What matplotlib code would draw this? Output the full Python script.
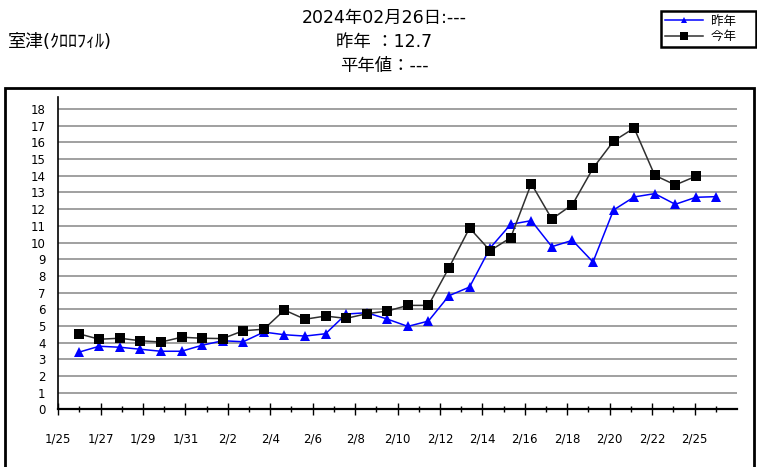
import matplotlib
matplotlib.use("Agg")
import matplotlib.pyplot as plt
from matplotlib.patches import Rectangle

plt.rcParams['font.family'] = ['DejaVu Sans', 'Noto Sans CJK JP']

# ---- data ----
last_year = [3.42, 3.78, 3.72, 3.60, 3.48, 3.48, 3.84, 4.11, 4.05, 4.63, 4.47,
             4.39, 4.53, 5.71, 5.79, 5.41, 4.97, 5.29, 6.81, 7.33, 9.67, 11.09,
             11.31, 9.75, 10.13, 8.83, 11.95, 12.73, 12.93, 12.29, 12.71, 12.75]
this_year = [4.53, 4.20, 4.26, 4.11, 4.03, 4.32, 4.26, 4.24, 4.71, 4.80, 5.95,
             5.40, 5.59, 5.45, 5.73, 5.89, 6.23, 6.23, 8.49, 10.87, 9.51, 10.29,
             13.53, 11.41, 12.27, 14.45, 16.08, 16.86, 14.03, 13.45, 13.97]
date_labels = ['1/25', '1/27', '1/29', '1/31', '2/2', '2/4', '2/6', '2/8', '2/10',
               '2/12', '2/14', '2/16', '2/18', '2/20', '2/22', '2/25']
y_ticks = list(range(0, 19))
series_names = ['昨年', '今年']
title_lines = ['2024年02月26日:---', '昨年 ：12.7', '平年値：---']
station = '室津(ｸﾛﾛﾌｨﾙ)'

W, H = 757, 467
fig = plt.figure(figsize=(W / 100, H / 100), dpi=100)

left_px, right_px = 58.1, 737.0
bottom_px = 409.3
unit_px = 16.68
ytop = 18.7
top_px = bottom_px - ytop * unit_px
ax = fig.add_axes([left_px / W, 1 - bottom_px / H,
                   (right_px - left_px) / W, (bottom_px - top_px) / H])

x_last = list(range(len(last_year)))
x_this = list(range(len(this_year)))

for yv in y_ticks:
    ax.axhline(yv, color='#a0a0a0', lw=1.4, zorder=1)

l1, = ax.plot(x_last, last_year, color='#0000ff', lw=1.1, marker='^', markersize=6.5,
              markeredgewidth=0, zorder=3)
l2, = ax.plot(x_this, this_year, color='#303030', lw=1.1, marker='s', markersize=7,
              markerfacecolor='black', markeredgewidth=0, zorder=4)

ax.set_xlim(-1, 32)
ax.set_ylim(0, ytop)
ax.set_yticks(y_ticks)
ax.set_yticklabels([str(v) for v in y_ticks], fontsize=8.5)
ax.tick_params(axis='y', length=0, pad=9)
ax.set_xticks([])

for s in ['top', 'right']:
    ax.spines[s].set_visible(False)
ax.spines['left'].set_linewidth(1.2)
ax.spines['bottom'].set_linewidth(1.6)

# tick axis: date ticks spaced independently of data points
sec = ax.secondary_xaxis('bottom', functions=(lambda d: (d + 1) * 32 / 33,
                                              lambda t: t * 33 / 32 - 1))
sec.set_xticks(list(range(0, 2 * len(date_labels), 2)))
sec.set_xticklabels(date_labels, fontsize=8.5)
sec.set_xticks(list(range(1, 32, 2)), minor=True)
sec.tick_params(axis='x', which='major', direction='inout', length=8, width=1, pad=13)
sec.tick_params(axis='x', which='minor', direction='inout', length=5, width=1)
sec.spines['bottom'].set_visible(False)

# outer frame
fig.patches.append(Rectangle((5 / W, -0.05), 749 / W, 1 - 88 / H + 0.05,
                             transform=fig.transFigure, fill=False,
                             edgecolor='black', lw=2))

# title texts
for i, t in enumerate(title_lines):
    fig.text(0.508, 1 - (18 + 24 * i) / H, t, ha='center', va='center', fontsize=12.5)
fig.text(8 / W, 1 - 42 / H, station, ha='left', va='center', fontsize=13)

# legend
leg = fig.legend(handles=[l1, l2], labels=[n + '    ' for n in series_names],
                 loc='upper right', bbox_to_anchor=(756 / W, 1 - 11 / H),
                 fontsize=9, frameon=True, fancybox=False, framealpha=1,
                 edgecolor='black', borderpad=0.3, handlelength=3.0,
                 handletextpad=0.7, labelspacing=0.2, borderaxespad=0,
                 markerscale=0.75)
leg.get_frame().set_linewidth(1.8)

fig.savefig('out.png', dpi=100)
